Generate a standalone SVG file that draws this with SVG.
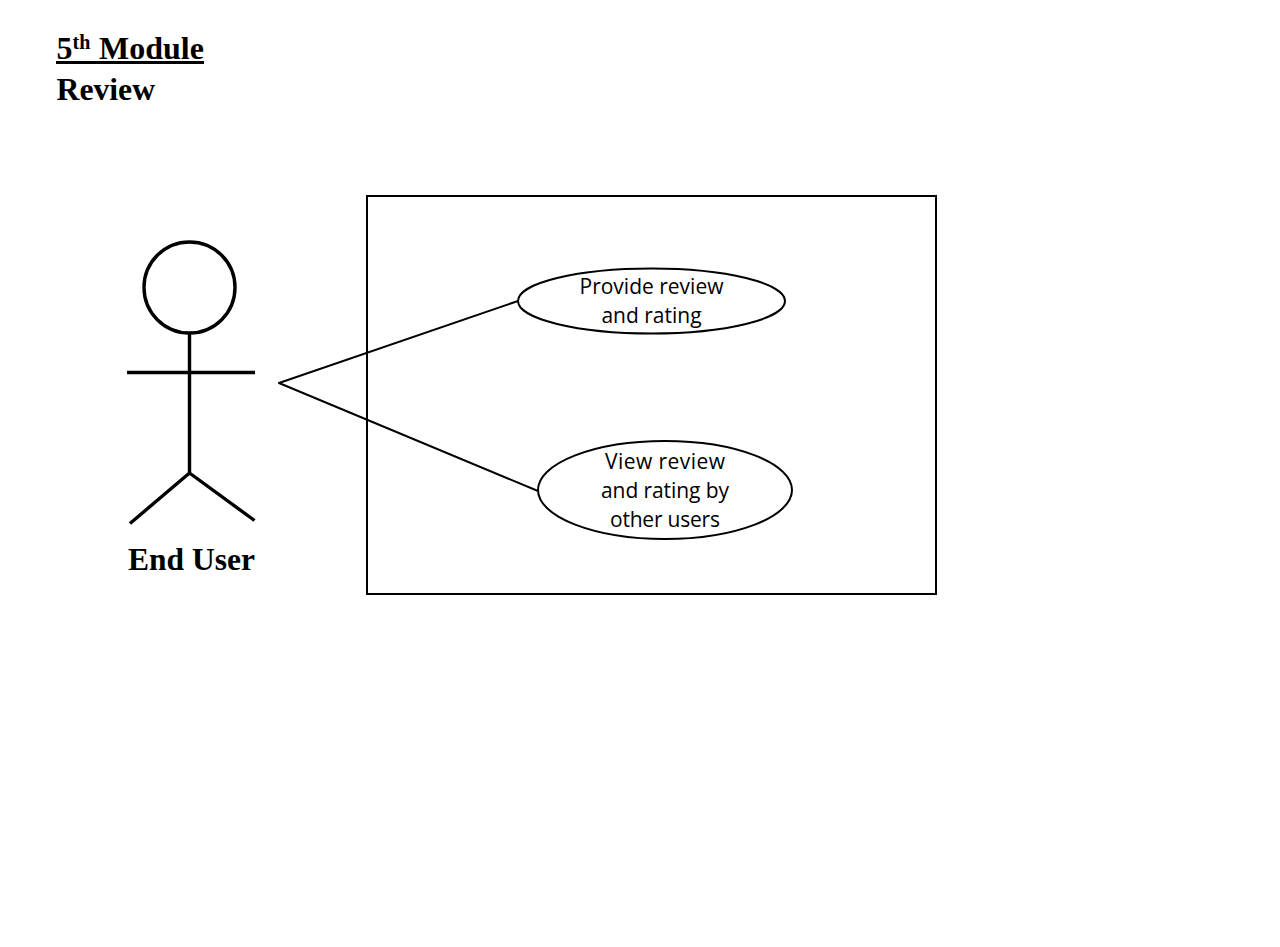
<svg xmlns="http://www.w3.org/2000/svg" width="1280" height="947" viewBox="0 0 1280 947">
<style>
.t{font-family:"Liberation Serif",serif;font-weight:bold;fill:#000}
.u{font-family:"Open Sans","Noto Sans",sans-serif;font-size:21px;fill:#000;text-anchor:middle}
.s{fill:none;stroke:#000;stroke-width:2}
.n{fill:#fff;stroke:#000;stroke-width:2}
.a{fill:none;stroke:#000;stroke-width:3.4}
</style>
<rect width="1280" height="947" fill="#fff"/>
<g id="title">
<text class="t" x="56.500" y="59" font-size="32">5</text>
<text class="t" x="72.500" y="49" font-size="20">th</text>
<text class="t" x="99" y="59" font-size="32">Module</text>
<rect x="56" y="61" width="148" height="3" fill="#000"/>
<text class="t" x="56.500" y="100" font-size="31.700">Review</text>
</g>
<g id="actor">
<circle class="a" cx="189.500" cy="287.500" r="45.500"/>
<path class="a" d="M189.500 333V473M127 372.500H255M189.500 473L130 523.500M189.500 473L254.500 520.500"/>
<text class="t" x="128" y="570" font-size="31.500">End User</text>
</g>
<g id="connectors">
<path class="s" stroke-linejoin="round" d="M518 301L279 383L538 491"/>
</g>
<g id="system"><rect class="s" x="367" y="196" width="569" height="398"/></g>
<g id="provide">
<ellipse class="n" cx="651.500" cy="301" rx="133.500" ry="32.500"/>
<text class="u" x="651.500" y="294">Provide review</text>
<text class="u" x="651.500" y="323">and rating</text>
</g>
<g id="view">
<ellipse class="n" cx="665" cy="490" rx="127" ry="49"/>
<text class="u" x="665" y="469" textLength="120">View review</text>
<text class="u" x="665" y="498" textLength="128">and rating by</text>
<text class="u" x="665" y="527" textLength="110">other users</text>
</g>
</svg>
